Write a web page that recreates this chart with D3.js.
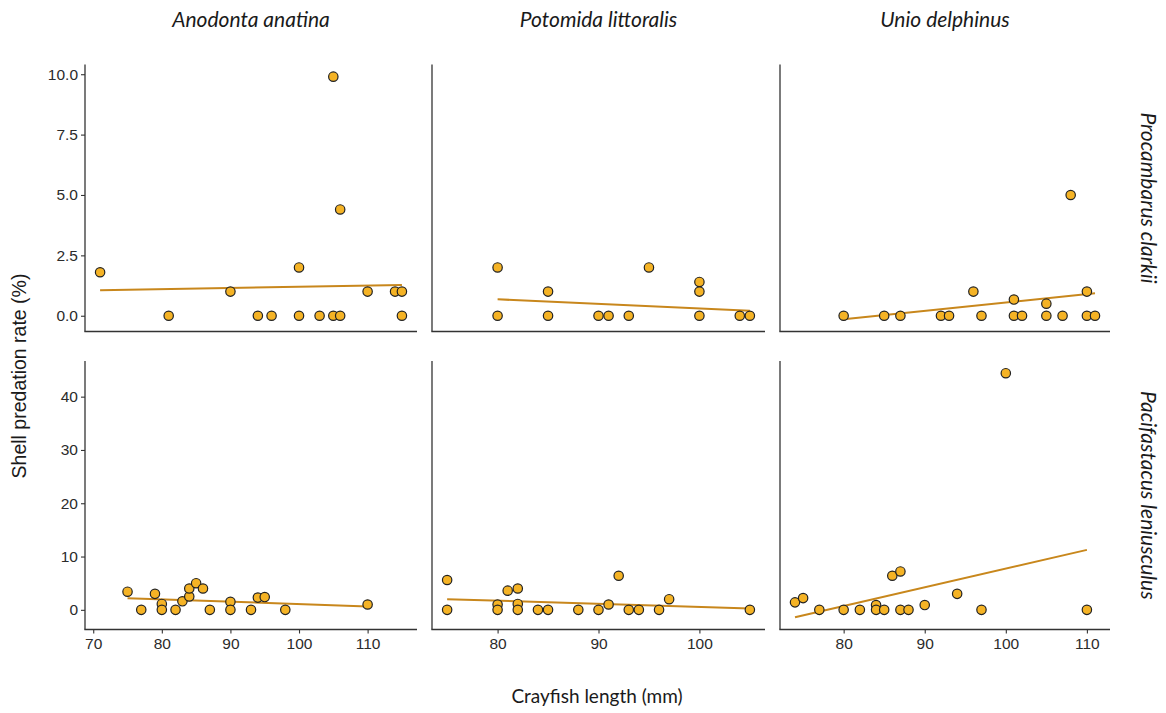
<!DOCTYPE html>
<html>
<head>
<meta charset="utf-8">
<script src="https://cdn.jsdelivr.net/npm/d3@7"></script>
<style>
  html, body { margin: 0; padding: 0; background: #fff; }
  svg { display: block; }
</style>
</head>
<body>
<svg id="chart" width="1166" height="713"></svg>
<script>
// Facet labels
const mussels = ["Anodonta anatina", "Potomida littoralis", "Unio delphinus"];
const crayfish = ["Procambarus clarkii", "Pacifastacus leniusculus"];

// Procambarus clarkii: crayfish length (mm) and shell predation rate (%)
const pcAnodontaLength = [71, 81, 90, 94, 96, 100, 100, 103, 105, 105, 106, 106, 110, 114, 115, 115];
const pcAnodontaRate   = [1.8, 0, 1, 0, 0, 2, 0, 0, 9.9, 0, 4.4, 0, 1, 1, 1, 0];
const pcPotomidaLength = [80, 80, 85, 85, 90, 91, 93, 95, 100, 100, 100, 104, 105];
const pcPotomidaRate   = [2, 0, 1, 0, 0, 0, 0, 2, 1.4, 1, 0, 0, 0];
const pcUnioLength     = [80, 85, 87, 92, 93, 96, 97, 101, 101, 102, 105, 105, 107, 108, 110, 110, 111];
const pcUnioRate       = [0, 0, 0, 0, 0, 1, 0, 0.67, 0, 0, 0.5, 0, 0, 5, 1, 0, 0];

// Pacifastacus leniusculus
const plAnodontaLength = [75, 77, 79, 80, 80, 82, 83, 84, 84, 85, 86, 87, 90, 90, 93, 94, 95, 98, 110];
const plAnodontaRate   = [3.4, 0, 3, 1.1, 0, 0, 1.6, 2.5, 4, 5, 4, 0, 1.5, 0, 0, 2.3, 2.4, 0, 1];
const plPotomidaLength = [75, 75, 80, 80, 81, 82, 82, 82, 84, 85, 88, 90, 91, 92, 93, 94, 96, 97, 105];
const plPotomidaRate   = [5.6, 0, 1, 0, 3.6, 4, 1.1, 0, 0, 0, 0, 0, 1, 6.4, 0, 0, 0, 2, 0];
const plUnioLength     = [74, 75, 77, 80, 82, 84, 84, 85, 86, 87, 87, 88, 90, 94, 97, 100, 110];
const plUnioRate       = [1.4, 2.2, 0, 0, 0, 0.9, 0, 0, 6.4, 7.2, 0, 0, 0.9, 3, 0, 44.4, 0];

// Linear fits: predicted rate at the shortest and longest crayfish of each panel
const pcAnodontaFit = [1.06, 1.27];
const pcPotomidaFit = [0.68, 0.21];
const pcUnioFit     = [-0.15, 0.93];
const plAnodontaFit = [2.18, 0.64];
const plPotomidaFit = [2.0, 0.25];
const plUnioFit     = [-1.4, 11.25];

// Axis ticks
const rowTicks = [[0, 2.5, 5, 7.5, 10], [0, 10, 20, 30, 40]];
const colTicks = [[70, 80, 90, 100, 110], [80, 90, 100], [80, 90, 100, 110]];

const panelData = [
  [[pcAnodontaLength, pcAnodontaRate, pcAnodontaFit],
   [pcPotomidaLength, pcPotomidaRate, pcPotomidaFit],
   [pcUnioLength, pcUnioRate, pcUnioFit]],
  [[plAnodontaLength, plAnodontaRate, plAnodontaFit],
   [plPotomidaLength, plPotomidaRate, plPotomidaFit],
   [plUnioLength, plUnioRate, plUnioFit]]
];

// Layout
const colRanges = [[85, 417], [432, 765], [780, 1110]];
const rowRanges = [[331.5, 64.5], [629.5, 361]];
const pointFill = "#F5B325";
const pointStroke = "#222";
const fitColor = "#C8871C";
const axisColor = "#333";
const tickTextColor = "#2b2b2b";

const svg = d3.select("#chart");

function expand(ext) {
  const pad = (ext[1] - ext[0]) * 0.05;
  return [ext[0] - pad, ext[1] + pad];
}

// Free scales: x shared down each column, y shared across each row
const xScales = mussels.map((m, c) => {
  const vals = panelData.flatMap(row => row[c][0]);
  return d3.scaleLinear().domain(expand(d3.extent(vals))).range(colRanges[c]);
});
const yScales = crayfish.map((p, r) => {
  const vals = panelData[r].flatMap(d => d[1].concat(d[2]));
  return d3.scaleLinear().domain(expand(d3.extent(vals))).range(rowRanges[r]);
});

const fmtRow = [d3.format(".1f"), d3.format("d")];

panelData.forEach((row, r) => {
  row.forEach((d, c) => {
    const x = xScales[c], y = yScales[r];
    const [len, rate, fit] = d;
    const g = svg.append("g");

    // y axis
    const yAxis = d3.axisLeft(y).tickValues(rowTicks[r]).tickSize(4).tickPadding(3)
      .tickFormat(c === 0 ? fmtRow[r] : "");
    const ya = g.append("g").attr("transform", `translate(${colRanges[c][0]},0)`).call(yAxis);
    if (c !== 0) ya.selectAll(".tick").remove();

    // x axis
    const xAxis = d3.axisBottom(x).tickValues(colTicks[c]).tickSize(4).tickPadding(4)
      .tickFormat(r === 1 ? d3.format("d") : "");
    const xa = g.append("g").attr("transform", `translate(0,${rowRanges[r][0]})`).call(xAxis);
    if (r !== 1) xa.selectAll(".tick").remove();

    [ya, xa].forEach(a => {
      a.selectAll(".tick line").attr("stroke", axisColor).attr("stroke-width", 1.1);
      a.selectAll(".tick text").attr("fill", tickTextColor)
        .style("font-family", "'Liberation Sans', Arial, sans-serif").style("font-size", "15.5px");
    });
    // plain axis lines spanning the panel
    ya.select(".domain").remove();
    xa.select(".domain").remove();
    g.append("line").attr("x1", colRanges[c][0]).attr("x2", colRanges[c][0])
      .attr("y1", rowRanges[r][0]).attr("y2", rowRanges[r][1])
      .attr("stroke", axisColor).attr("stroke-width", 1.3);
    g.append("line").attr("x1", colRanges[c][0] - 0.65).attr("x2", colRanges[c][1])
      .attr("y1", rowRanges[r][0]).attr("y2", rowRanges[r][0])
      .attr("stroke", axisColor).attr("stroke-width", 1.3);

    // fitted line
    const lenExt = d3.extent(len);
    g.append("line")
      .attr("x1", x(lenExt[0])).attr("y1", y(fit[0]))
      .attr("x2", x(lenExt[1])).attr("y2", y(fit[1]))
      .attr("stroke", fitColor).attr("stroke-width", 2);

    // points
    g.selectAll("circle").data(len.map((v, i) => [v, rate[i]])).join("circle")
      .attr("cx", p => x(p[0])).attr("cy", p => y(p[1])).attr("r", 4.7)
      .attr("fill", pointFill).attr("stroke", pointStroke).attr("stroke-width", 1.2);
  });
});

// Column strips
mussels.forEach((m, c) => {
  svg.append("text")
    .attr("x", (colRanges[c][0] + colRanges[c][1]) / 2).attr("y", 27)
    .attr("text-anchor", "middle")
    .style("font-family", "Lato, 'Open Sans', sans-serif").style("font-style", "italic")
    .style("font-size", "21px").attr("fill", "#1a1a1a")
    .text(m);
});

// Row strips
crayfish.forEach((p, r) => {
  const cy = (rowRanges[r][0] + rowRanges[r][1]) / 2;
  svg.append("text")
    .attr("transform", `translate(1141,${cy}) rotate(90)`)
    .attr("text-anchor", "middle")
    .style("font-family", "Lato, 'Open Sans', sans-serif").style("font-style", "italic")
    .style("font-size", "21px").attr("fill", "#1a1a1a")
    .text(p);
});

// Axis titles
svg.append("text")
  .attr("x", 597).attr("y", 703).attr("text-anchor", "middle")
  .style("font-family", "Lato, 'Open Sans', sans-serif").style("font-size", "19px")
  .attr("fill", "#1a1a1a").text("Crayfish length (mm)");

svg.append("text")
  .attr("transform", "translate(26,376) rotate(-90)").attr("text-anchor", "middle")
  .style("font-family", "'Liberation Sans', Arial, sans-serif").style("font-size", "19.5px")
  .attr("fill", "#1a1a1a").text("Shell predation rate (%)");
</script>
</body>
</html>
